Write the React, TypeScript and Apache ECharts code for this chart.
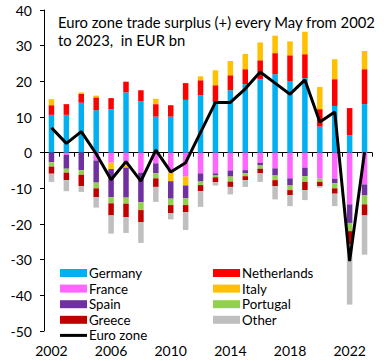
import React, { useEffect, useRef } from "react";
import * as echarts from "echarts";

const years = ["2002","2003","2004","2005","2006","2007","2008","2009","2010","2011","2012","2013","2014","2015","2016","2017","2018","2019","2020","2021","2022","2023"];
const germany = [10.6,10.6,14.0,11.9,12.2,16.9,14.4,10.1,10.1,14.8,16.1,14.2,17.5,19.2,20.6,22.0,20.1,20.9,7.3,13.1,4.9,13.6];
const netherlands = [2.7,3.0,2.5,3.6,3.1,3.0,3.1,3.5,3.2,4.7,4.2,4.7,4.2,4.2,5.3,5.9,7.2,6.7,4.9,7.5,7.6,9.8];
const italy = [1.7,0,0.4,0.5,-1.8,-0.9,0,1.5,-2.4,-2.5,1.1,4.2,4.0,4.3,5.0,4.9,3.9,6.3,6.2,5.6,0,5.1];
const france = [0,-0.6,0,-2.2,-2.8,-3.3,-5.6,-3.0,-5.6,-6.7,-5.8,-5.8,-5.0,-4.9,-2.8,-4.4,-7.2,-4.2,-7.3,-7.3,-14.5,-8.9];
const spain = [-2.7,-3.9,-4.9,-6.2,-7.9,-8.4,-8.3,-2.8,-4.9,-3.6,-2.3,-0.6,-1.7,-0.9,-0.8,-2.0,-2.0,-2.4,0,-1.3,-5.2,-3.1];
const portugal = [-1.2,-1.1,-1.3,-1.6,-1.7,-1.7,-2.2,-1.4,-1.8,-1.9,-1.0,-0.5,-1.4,-0.8,-0.9,-1.3,-1.3,-1.6,-0.9,-1.4,-2.3,-2.5];
const greece = [-2.0,-2.1,-3.2,-2.5,-3.4,-3.8,-3.4,-2.4,-2.3,-2.0,-1.7,-1.4,-1.5,-1.1,-1.3,-1.7,-1.4,-2.3,-1.2,-1.5,-3.6,-3.1];
const other = [-2.3,-3.1,-1.6,-2.9,-5.1,-4.4,-5.8,-4.2,-1.7,-5.0,-4.4,-0.9,-2.1,-1.9,-2.4,-3.7,-3.1,-2.8,-0.4,-3.5,-17.0,-11.0];
const euroZone = [7.0,2.6,5.9,-0.3,-7.6,-2.5,-8.0,0.7,-5.4,-2.8,5.7,14.1,14.1,17.9,22.6,19.5,16.4,20.4,8.6,11.4,-30.4,0.1];

const titleText = "Euro zone trade surplus (+) every May from 2002\nto 2023,  in EUR bn";
const FONT = "Lato";

export default function App() {
  const ref = useRef<HTMLDivElement>(null);
  useEffect(() => {
    if (!ref.current) return;
    const chart = echarts.init(ref.current, null, { renderer: "svg" });
    const bar = (name: string, data: number[], color: string) => ({
      name, type: "bar", stack: "s", data, barWidth: 5.5,
      itemStyle: { color }, xAxisIndex: 0, yAxisIndex: 0,
    });
    const legendBase = {
      orient: "vertical", itemWidth: 27, itemHeight: 8, itemGap: 2.6,
      icon: "rect", padding: 0, height: 95,
      textStyle: { fontFamily: FONT, fontSize: 13.3, color: "#000", lineHeight: 12, padding: [0, 0, 0, -3] },
    };
    chart.setOption({
      animation: false,
      title: {
        text: titleText, left: 53, top: 8,
        textStyle: { fontFamily: FONT, fontSize: 14.8, fontWeight: "normal", color: "#000", lineHeight: 18 },
      },
      legend: [
        { ...legendBase, left: 60, top: 266.5, data: ["Germany", "France", "Spain", "Greece", { name: "Euro zone", icon: "path://M0,0 L27,0 L27,3 L0,3 Z" }] },
        { ...legendBase, left: 213, top: 266.5, data: ["Netherlands", "Italy", "Portugal", "Other"] },
      ],
      grid: { left: 44, right: 12, top: 10, bottom: 30, containLabel: false },
      xAxis: [
        {
          type: "category", data: years, position: "bottom",
          axisLine: { show: true, onZero: true, lineStyle: { color: "#000", width: 1 } },
          axisTick: { show: true, length: 4, interval: 0, lineStyle: { color: "#000" } },
          axisLabel: { show: false },
        },
        {
          type: "category", data: years, position: "bottom",
          axisLine: { show: false, onZero: false },
          axisTick: { show: false },
          axisLabel: { show: true, interval: 3, margin: 13.5, lineHeight: 12, fontFamily: FONT, fontSize: 14, color: "#000" },
        },
      ],
      yAxis: {
        type: "value", min: -50, max: 40, interval: 10,
        splitLine: { show: false },
        axisLine: { show: true, lineStyle: { color: "#000" } },
        axisTick: { show: true, length: 4, lineStyle: { color: "#000" } },
        axisLabel: { margin: 12, fontFamily: FONT, fontSize: 14, color: "#000" },
      },
      series: [
        bar("Germany", germany, "#00B0F0"),
        bar("France", france, "#FF66FF"),
        bar("Netherlands", netherlands, "#FF0000"),
        bar("Italy", italy, "#FFC000"),
        bar("Spain", spain, "#7030A0"),
        bar("Portugal", portugal, "#92D050"),
        bar("Greece", greece, "#C00000"),
        bar("Other", other, "#BFBFBF"),
        {
          name: "Euro zone", type: "line", data: euroZone, symbol: "none", z: 10,
          lineStyle: { color: "#000", width: 3 }, itemStyle: { color: "#000" },
        },
      ],
    });
    return () => chart.dispose();
  }, []);
  return <div ref={ref} style={{ position: "fixed", left: 0, top: 0, width: 384, height: 361, background: "#fff" }} />;
}
